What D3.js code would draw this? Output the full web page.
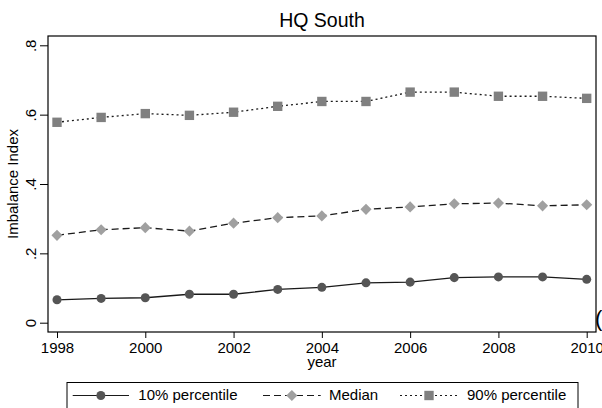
<!DOCTYPE html>
<html>
<head>
<meta charset="utf-8">
<script src="https://cdn.jsdelivr.net/npm/d3@7"></script>
<style>
  html, body { margin: 0; padding: 0; background: #fff; }
  svg { display: block; font-family: "Liberation Sans", Arial, sans-serif; }
</style>
</head>
<body>
<svg id="chart" width="602" height="408"></svg>
<script>
// Imbalance index percentiles by year, HQ South
const years = [1998, 1999, 2000, 2001, 2002, 2003, 2004, 2005, 2006, 2007, 2008, 2009, 2010];
const p10 = [0.066, 0.070, 0.072, 0.082, 0.082, 0.096, 0.102, 0.115, 0.117, 0.130, 0.132, 0.132, 0.125];
const median = [0.252, 0.268, 0.274, 0.264, 0.287, 0.303, 0.308, 0.327, 0.334, 0.343, 0.345, 0.337, 0.340];
const p90 = [0.578, 0.592, 0.603, 0.598, 0.607, 0.624, 0.638, 0.638, 0.665, 0.665, 0.653, 0.653, 0.647];
const seriesNames = ["10% percentile", "Median", "90% percentile"];
const xTicks = [1998, 2000, 2002, 2004, 2006, 2008, 2010];
const yTicks = [0, 0.2, 0.4, 0.6, 0.8];
const yTickLabels = ["0", ".2", ".4", ".6", ".8"];

const svg = d3.select("#chart");
const box = { left: 48, right: 596, top: 36, bottom: 332 };

const x = d3.scaleLinear().domain([1998, 2010]).range([57, 586.7]);
const y = d3.scaleLinear().domain([0, 0.8]).range([322.7, 45.3]);

// plot region frame
svg.append("rect")
  .attr("x", box.left).attr("y", box.top)
  .attr("width", box.right - box.left).attr("height", box.bottom - box.top)
  .attr("fill", "#fff").attr("stroke", "#000").attr("stroke-width", 1.2);

// y axis
const yAxis = d3.axisLeft(y).tickValues(yTicks)
  .tickFormat((d, i) => yTickLabels[i]).tickSize(8).tickPadding(4);
const gy = svg.append("g").attr("transform", `translate(${box.left},0)`).call(yAxis);
gy.select(".domain").remove();
gy.selectAll(".tick line").attr("stroke", "#000").attr("stroke-width", 1);
gy.selectAll(".tick text")
  .attr("font-size", 15).attr("fill", "#000")
  .attr("text-anchor", "middle").attr("x", 0).attr("y", 0).attr("dy", 0)
  .attr("transform", "translate(-12,0) rotate(-90)");

// x axis
const xAxis = d3.axisBottom(x).tickValues(xTicks)
  .tickFormat(d3.format("d")).tickSize(6).tickPadding(4);
const gx = svg.append("g").attr("transform", `translate(0,${box.bottom})`).call(xAxis);
gx.select(".domain").remove();
gx.selectAll(".tick line").attr("stroke", "#000").attr("stroke-width", 1);
gx.selectAll(".tick text").attr("font-size", 15).attr("fill", "#000")
  .attr("y", 21).attr("dy", 0);

// titles
svg.append("text").attr("x", 322).attr("y", 27).attr("text-anchor", "middle")
  .attr("font-size", 19.5).attr("fill", "#000").text("HQ South");
svg.append("text").attr("x", 322).attr("y", 367).attr("text-anchor", "middle")
  .attr("font-size", 15).attr("fill", "#000").text("year");
svg.append("text").attr("transform", "translate(18,184) rotate(-90)")
  .attr("text-anchor", "middle").attr("font-size", 15).attr("fill", "#000")
  .text("Imbalance Index");

// clipped panel label at the right edge
svg.append("text").attr("x", 595).attr("y", 326)
  .attr("font-size", 22).attr("fill", "#000").text("(");

const styles = [
  { values: p10, dash: null, marker: "circle", fill: "#555555", size: 64, rot: 0 },
  { values: median, dash: "7,4", marker: "square", fill: "#a0a0a0", size: 62, rot: 45 },
  { values: p90, dash: "2,3", marker: "square", fill: "#808080", size: 88, rot: 0 }
];
const symbolType = { circle: d3.symbolCircle, square: d3.symbolSquare };

const line = d3.line().x(d => x(d[0])).y(d => y(d[1]));

styles.forEach(s => {
  const pts = years.map((yr, i) => [yr, s.values[i]]);
  svg.append("path").datum(pts)
    .attr("d", line).attr("fill", "none")
    .attr("stroke", "#1a1a1a").attr("stroke-width", 1.3)
    .attr("stroke-dasharray", s.dash);
  svg.append("g").selectAll("path").data(pts).join("path")
    .attr("transform", d => `translate(${x(d[0])},${y(d[1])}) rotate(${s.rot})`)
    .attr("d", d3.symbol().type(symbolType[s.marker]).size(s.size))
    .attr("fill", s.fill);
});

// legend
const legend = svg.append("g");
legend.append("rect").attr("x", 67).attr("y", 382.5)
  .attr("width", 511).attr("height", 40)
  .attr("fill", "#fff").attr("stroke", "#000").attr("stroke-width", 1);
const legendItems = [
  { x0: 72.7, x1: 129, tx: 138.3 },
  { x0: 263, x1: 320.7, tx: 329 },
  { x0: 400, x1: 458, tx: 467 }
];
legendItems.forEach((it, i) => {
  const s = styles[i];
  const ly = 395.5;
  legend.append("line").attr("x1", it.x0).attr("x2", it.x1)
    .attr("y1", ly).attr("y2", ly)
    .attr("stroke", "#1a1a1a").attr("stroke-width", 1.2)
    .attr("stroke-dasharray", s.dash);
  legend.append("path")
    .attr("transform", `translate(${(it.x0 + it.x1) / 2},${ly}) rotate(${s.rot})`)
    .attr("d", d3.symbol().type(symbolType[s.marker]).size(s.size))
    .attr("fill", s.fill);
  legend.append("text").attr("x", it.tx).attr("y", ly + 4.5)
    .attr("font-size", 15).attr("fill", "#000").text(seriesNames[i]);
});
</script>
</body>
</html>
